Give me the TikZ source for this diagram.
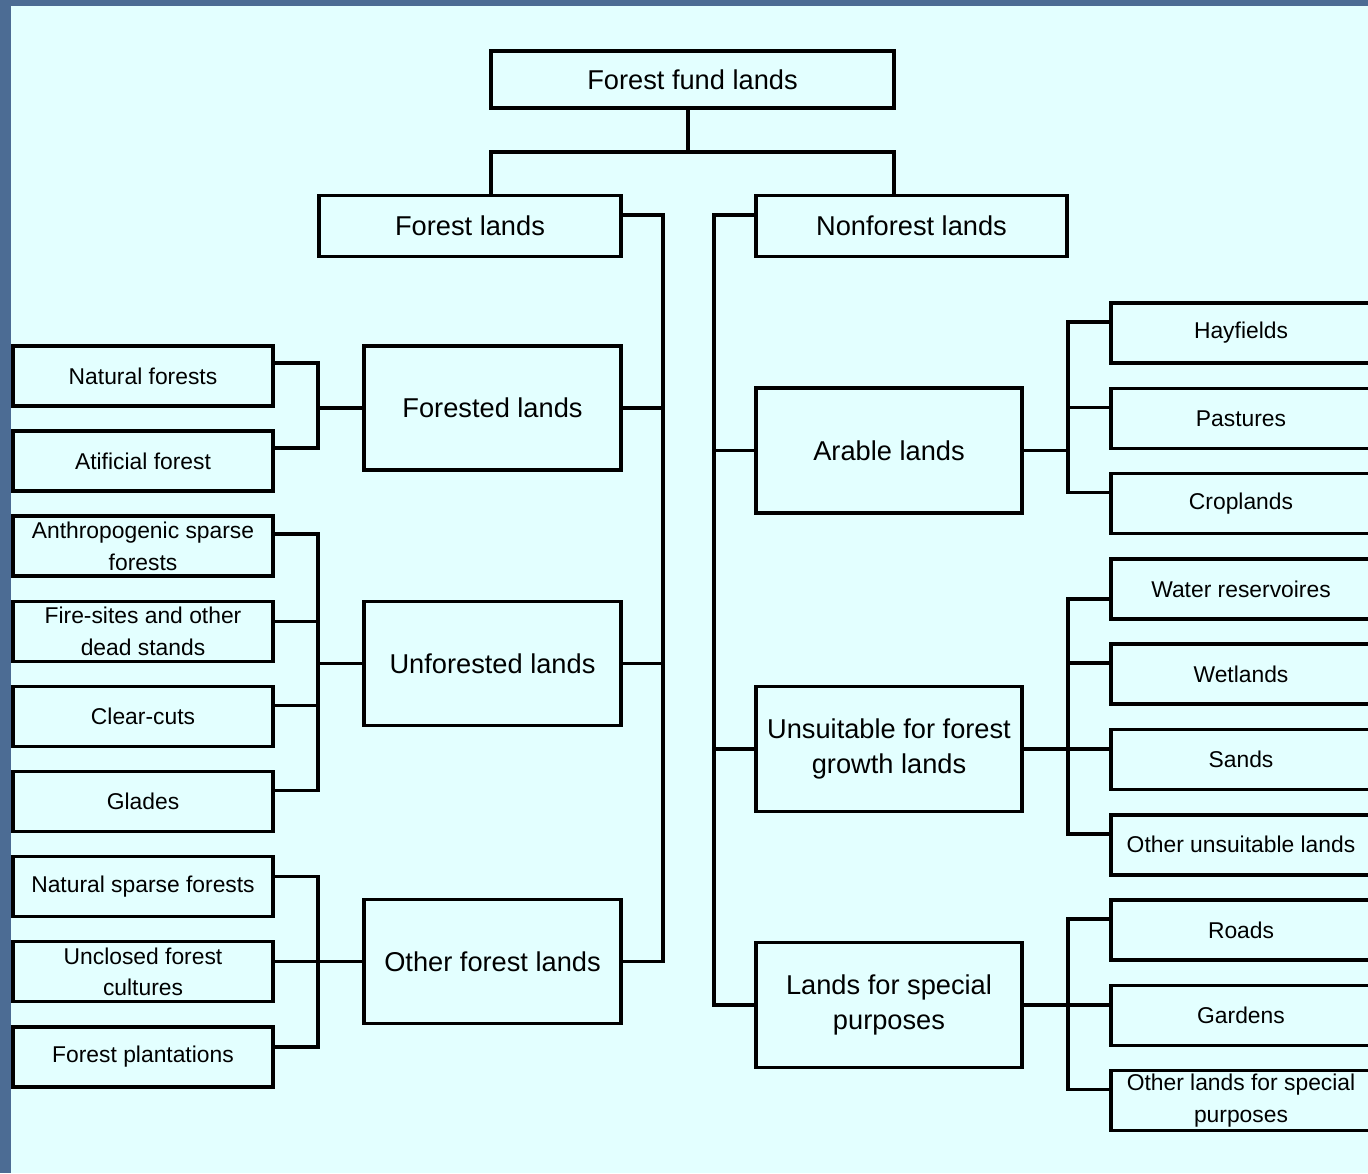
\documentclass[tikz,border=0pt]{standalone}
\usepackage{fontspec}
\setmainfont{Liberation Sans}
\usepackage{tikz}
\usetikzlibrary{positioning}
\definecolor{bgcyan}{RGB}{227,255,255}
\definecolor{bandblue}{RGB}{76,108,148}

\begin{document}
\begin{tikzpicture}[x=0.02cm, y=-0.02cm,
    box/.style={draw, line width=2pt, fill=bgcyan, inner sep=0pt, align=center},
    bigbox/.style={box, font=\fontsize{15.5}{20.4}\selectfont},
    leafbox/.style={box, minimum width=5.2cm, minimum height=1.2cm, font=\fontsize{13}{17.8}\selectfont},
    link/.style={line width=2pt}]
    \useasboundingbox (0,0) rectangle (1368,1173);
    \fill[bandblue] (0,0) rectangle (1368,1173);
    \fill[bgcyan] (11,6) rectangle (1368,1173);

    \node[bigbox, minimum width=8.06cm, minimum height=1.14cm] (fund) at (692.5,79.5) {Forest fund lands};
    \node[bigbox, minimum width=6.04cm, minimum height=1.22cm] (forest) at (470,226) {Forest lands};
    \node[bigbox, minimum width=6.22cm, minimum height=1.22cm] (nonforest) at (911.5,226) {Nonforest lands};

    \node[bigbox, minimum width=5.14cm, minimum height=2.48cm] (forested) at (492.5,408) {Forested lands};
    \node[bigbox, minimum width=5.14cm, minimum height=2.48cm] (unforested) at (492.5,663.5) {Unforested lands};
    \node[bigbox, minimum width=5.14cm, minimum height=2.48cm] (otherforest) at (492.5,961.5) {Other forest lands};
    \node[bigbox, minimum width=5.32cm, minimum height=2.5cm] (arable) at (889,450.5) {Arable lands};
    \node[bigbox, minimum width=5.32cm, minimum height=2.5cm] (unsuitable) at (889,749) {Unsuitable for forest\\growth lands};
    \node[bigbox, minimum width=5.32cm, minimum height=2.5cm] (special) at (889,1005) {Lands for special\\purposes};

    \node[leafbox] (natural) at (143,376) {Natural forests};
    \node[leafbox] (atificial) [below=0.432cm of natural] {Atificial forest};
    \node[leafbox] (anthropo) [below=0.432cm of atificial] {Anthropogenic sparse\\forests};
    \node[leafbox] (firesites) [below=0.432cm of anthropo] {Fire-sites and other\\dead stands};
    \node[leafbox] (clearcuts) [below=0.432cm of firesites] {Clear-cuts};
    \node[leafbox] (glades) [below=0.432cm of clearcuts] {Glades};
    \node[leafbox] (natsparse) [below=0.432cm of glades] {Natural sparse forests};
    \node[leafbox] (unclosed) [below=0.432cm of natsparse] {Unclosed forest\\cultures};
    \node[leafbox] (plantations) [below=0.432cm of unclosed] {Forest plantations};

    \node[leafbox] (hayfields) at (1241,333) {Hayfields};
    \node[leafbox] (pastures) [below=0.436cm of hayfields] {Pastures};
    \node[leafbox] (croplands) [below=0.436cm of pastures] {Croplands};
    \node[leafbox] (water) [below=0.436cm of croplands] {Water reservoires};
    \node[leafbox] (wetlands) [below=0.436cm of water] {Wetlands};
    \node[leafbox] (sands) [below=0.436cm of wetlands] {Sands};
    \node[leafbox] (otherunsuit) [below=0.436cm of sands] {Other unsuitable lands};
    \node[leafbox] (roads) [below=0.436cm of otherunsuit] {Roads};
    \node[leafbox] (gardens) [below=0.436cm of roads] {Gardens};
    \node[leafbox] (otherspecial) [below=0.436cm of gardens] {Other lands for special\\purposes};

    \coordinate (bar) at (0,152);
    \coordinate (lspine) at (318,0);
    \coordinate (lmain) at (663,0);
    \coordinate (rmain) at (714,0);
    \coordinate (rspine) at (1068,0);

    \draw[link] ([xshift=-0.09cm]fund.south) -- ([xshift=-0.09cm]fund.south |- bar);
    \draw[link] ([xshift=0.03cm]forest.north -| fund.west) -- ([xshift=0.03cm]fund.west |- bar) -- ([xshift=-0.03cm]fund.east |- bar) -- ([xshift=-0.03cm]nonforest.north -| fund.east);

    \draw[link] ([yshift=0.22cm]forest.east) -| (otherforest.east -| lmain) -- (otherforest.east);
    \draw[link] (forested.east) -- (forested.east -| lmain);
    \draw[link] (unforested.east) -- (unforested.east -| lmain);
    \draw[link] ([yshift=0.22cm]nonforest.west) -| (special.west -| rmain) -- (special.west);
    \draw[link] (arable.west) -- (arable.west -| rmain);
    \draw[link] (unsuitable.west) -- (unsuitable.west -| rmain);

    \draw[link] ([yshift=0.26cm]natural.east) -| ([yshift=0.26cm]atificial.east -| lspine) -- ([yshift=0.26cm]atificial.east);
    \draw[link] (forested.west) -- (forested.west -| lspine);

    \draw[link] ([yshift=0.24cm]anthropo.east) -| ([yshift=0.22cm]glades.east -| lspine) -- ([yshift=0.22cm]glades.east);
    \draw[link] ([yshift=0.2cm]firesites.east) -- ([yshift=0.2cm]firesites.east -| lspine);
    \draw[link] ([yshift=0.22cm]clearcuts.east) -- ([yshift=0.22cm]clearcuts.east -| lspine);
    \draw[link] (unforested.west) -- (unforested.west -| lspine);

    \draw[link] ([yshift=0.2cm]natsparse.east) -| ([yshift=0.2cm]plantations.east -| lspine) -- ([yshift=0.2cm]plantations.east);
    \draw[link] (otherforest.west) -- (otherforest.west -| unclosed.east);

    \draw[link] ([yshift=0.22cm]hayfields.west) -| ([yshift=0.22cm]croplands.west -| rspine) -- ([yshift=0.22cm]croplands.west);
    \draw[link] ([yshift=0.22cm]pastures.west) -- ([yshift=0.22cm]pastures.west -| rspine);
    \draw[link] (arable.east) -- (arable.east -| rspine);

    \draw[link] ([yshift=-0.2cm]water.west) -| ([yshift=0.22cm]otherunsuit.west -| rspine) -- ([yshift=0.22cm]otherunsuit.west);
    \draw[link] ([yshift=0.22cm]wetlands.west) -- ([yshift=0.22cm]wetlands.west -| rspine);
    \draw[link] (unsuitable.east) -- (unsuitable.east -| sands.west);

    \draw[link] ([yshift=0.22cm]roads.west) -| ([yshift=0.22cm]otherspecial.west -| rspine) -- ([yshift=0.22cm]otherspecial.west);
    \draw[link] (special.east) -- (special.east -| gardens.west);
\end{tikzpicture}
\end{document}
